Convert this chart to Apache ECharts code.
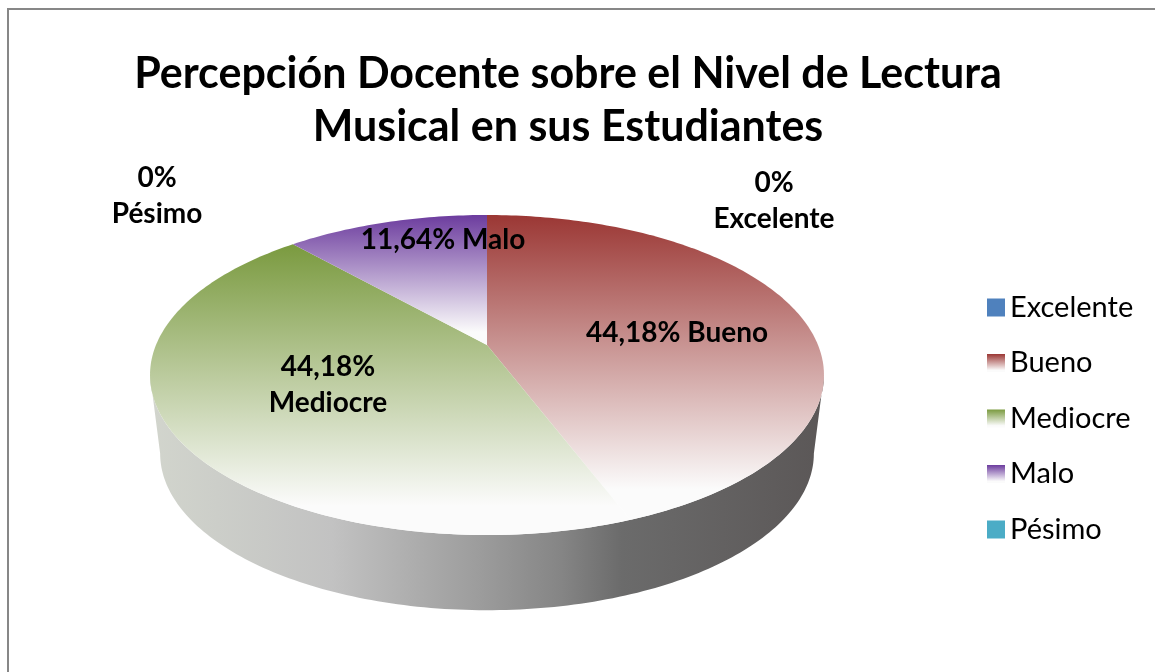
<!DOCTYPE html>
<html>
<head>
<meta charset="utf-8">
<script src="https://cdn.jsdelivr.net/npm/echarts@6/dist/echarts.min.js"></script>
<style>
  html, body { margin: 0; padding: 0; background: #fff; width: 1155px; height: 672px; overflow: hidden; }
  /* chart area frame, runs off the right and bottom edge like the original */
  #frame { position: absolute; left: 7px; top: 8px; width: 1200px; height: 700px;
           border-left: 2px solid #878787; border-top: 2px solid #878787; box-sizing: border-box; }
  #chart { position: absolute; left: 0; top: 0; width: 1136px; height: 672px; }
</style>
</head>
<body>
<div id="frame"></div>
<div id="chart"></div>
<script>
// --- data ---
const categories = ['Excelente', 'Bueno', 'Mediocre', 'Malo', 'Pésimo'];
const percentages = [0, 44.18, 44.18, 11.64, 0];

// --- styles / layout ---
const baseColors = ['#4f81bd', '#9b3734', '#7a9a3f', '#6c3c9e', '#4bacc6'];
const fadeToWhite = [false, true, true, true, false];
const labelWrap = [true, false, true, false, true];
// label centre, px from the pie centre (Excel places 3D labels its own way)
const labelOffsets = [[287, -144], [190, -12], [-159, 40], [-44, -105], [-330, -149]];

// tilted disc seen in perspective: centre, half axes, perspective factor
const pie = { cx: 487, cy: 345, a: 331, b: 154.4, k: 0.1875, depth: 79, sideScaleX: 0.97, sideScaleY: 0.98 };
const FONT = 'Lato, "Open Sans", sans-serif';

// slice start angles, clockwise from 12 o'clock
const startAngles = [];
percentages.reduce((acc, p, i) => {
    startAngles[i] = acc;
    return acc + p / 100 * 360;
}, 0);

// project a point of the unit disc (angle in degrees) onto the screen
function project(deg, sx, sy, dy) {
    const rad = deg * Math.PI / 180;
    const u = Math.sin(rad);
    const v = Math.cos(rad);
    const w = 1 + pie.k * v;
    return [pie.cx + pie.a * sx * u / w, pie.cy + dy - pie.b * sy * v / w];
}

function arc(from, to, sx, sy, dy) {
    const pts = [];
    const step = from < to ? 1 : -1;
    for (let a = from; step > 0 ? a < to : a > to; a += step) {
        pts.push(project(a, sx, sy, dy));
    }
    pts.push(project(to, sx, sy, dy));
    return pts;
}

function sliceFill(i) {
    if (!fadeToWhite[i]) return baseColors[i];
    return {
        type: 'linear', x: 0, y: 0, x2: 0, y2: 1,
        colorStops: [
            { offset: 0, color: baseColors[i] },
            { offset: 0.9, color: '#fbfbfb' },
            { offset: 1, color: '#fbfbfb' }
        ]
    };
}

function formatPercent(p) {
    return (p === 0 ? '0' : p.toFixed(2).replace('.', ',')) + '%';
}

function renderSlice(i) {
    const start = startAngles[i];
    const end = start + percentages[i] / 100 * 360;
    const children = [];
    if (end > start) {
        children.push({
            type: 'polygon',
            shape: { points: [[pie.cx, pie.cy]].concat(arc(start, end, 1, 1, 0)) },
            style: { fill: sliceFill(i) },
            z2: 0
        });
    }
    const sep = labelWrap[i] ? '\n' : ' ';
    children.push({
        type: 'text',
        x: pie.cx + labelOffsets[i][0],
        y: pie.cy + labelOffsets[i][1],
        z2: 10,
        style: {
            text: formatPercent(percentages[i]) + sep + categories[i],
            fill: '#000',
            fontFamily: FONT,
            fontSize: 28,
            fontWeight: 'bold',
            lineHeight: 36,
            align: 'center',
            verticalAlign: 'middle'
        }
    });
    return { type: 'group', children: children };
}

// front wall of the disc, one grey band between the silhouette points
function renderSide() {
    const edge = Math.acos(-pie.k) * 180 / Math.PI;
    const top = arc(edge, 360 - edge, 1, 1, 0);
    const bottom = arc(360 - edge, edge, pie.sideScaleX, pie.sideScaleY, pie.depth);
    return {
        type: 'polygon',
        shape: { points: top.concat(bottom) },
        style: {
            fill: {
                type: 'linear', x: 0, y: 0, x2: 1, y2: 0,
                colorStops: [
                    { offset: 0, color: '#d2d5cd' },
                    { offset: 0.27, color: '#c2c2c2' },
                    { offset: 0.49, color: '#9c9c9c' },
                    { offset: 0.61, color: '#858585' },
                    { offset: 0.7, color: '#6b6b6b' },
                    { offset: 1, color: '#5b5757' }
                ]
            }
        }
    };
}

const chart = echarts.init(document.getElementById('chart'), null, { renderer: 'canvas' });

const sliceSeries = categories.map((name, i) => ({
    type: 'custom',
    name: name,
    coordinateSystem: 'none',
    z: 2,
    data: [percentages[i]],
    itemStyle: { color: sliceFill(i) },
    renderItem: () => renderSlice(i)
}));

chart.setOption({
    animation: false,
    backgroundColor: 'transparent',
    title: {
        text: 'Percepción Docente sobre el Nivel de Lectura\nMusical en sus Estudiantes',
        left: 'center',
        top: 48,
        padding: 0,
        textStyle: {
            fontFamily: FONT,
            fontSize: 43,
            fontWeight: 'bold',
            color: '#000',
            lineHeight: 53
        }
    },
    legend: {
        data: categories,
        orient: 'vertical',
        left: 982,
        top: 288,
        icon: 'rect',
        itemWidth: 18,
        itemHeight: 18,
        itemGap: 26.5,
        selectedMode: false,
        textStyle: {
            fontFamily: FONT,
            fontSize: 29,
            lineHeight: 28,
            color: '#000'
        }
    },
    series: [{
        type: 'custom',
        name: 'lateral',
        coordinateSystem: 'none',
        silent: true,
        z: 1,
        data: [0],
        renderItem: renderSide
    }].concat(sliceSeries)
});
</script>
</body>
</html>
